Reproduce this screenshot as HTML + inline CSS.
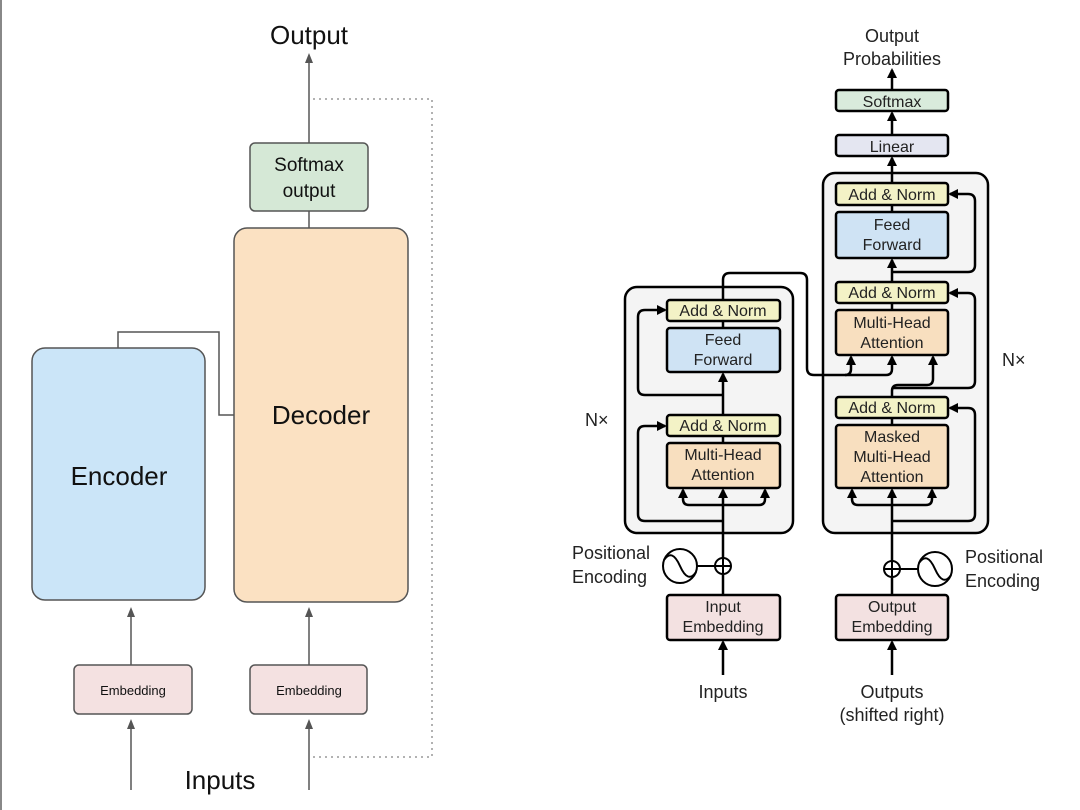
<!DOCTYPE html>
<html><head><meta charset="utf-8"><style>
html,body{margin:0;padding:0;background:#fff;}
svg{display:block;font-family:"Liberation Sans",Arial,sans-serif;}
</style></head><body>
<svg width="1080" height="810" viewBox="0 0 1080 810" xmlns="http://www.w3.org/2000/svg">
<defs>
<marker id="ag" markerWidth="10" markerHeight="10" refX="5" refY="5" orient="auto" markerUnits="userSpaceOnUse"><path d="M0,1 L10,5 L0,9 z" fill="#555"/></marker>
<marker id="ab" markerWidth="10" markerHeight="10" refX="8" refY="5" orient="auto" markerUnits="userSpaceOnUse"><path d="M0,0 L10,5 L0,10 z" fill="#000"/></marker>
</defs>
<rect x="0" y="0" width="1080" height="810" fill="#fff"/>
<line x1="1" y1="0" x2="1" y2="810" stroke="#888" stroke-width="2"/>

<text x="309" y="44" font-size="26" text-anchor="middle" fill="#111">Output</text>
<line x1="309" y1="143" x2="309" y2="58" stroke="#555" stroke-width="1.5" marker-end="url(#ag)"/>
<polyline points="313,99 432,99 432,757 313,757" fill="none" stroke="#999" stroke-width="1.5" stroke-dasharray="2,4"/>
<rect x="250" y="143" width="118" height="68" rx="5" fill="#d5e8d6" stroke="#555" stroke-width="1.5"/>
<text x="309" y="171" font-size="19" text-anchor="middle" fill="#111">Softmax</text>
<text x="309" y="197" font-size="19" text-anchor="middle" fill="#111">output</text>
<line x1="309" y1="211" x2="309" y2="228" stroke="#555" stroke-width="1.5"/>
<rect x="234" y="228" width="174" height="374" rx="13" fill="#fbe1c2" stroke="#555" stroke-width="1.5"/>
<text x="321" y="424" font-size="26" text-anchor="middle" fill="#111">Decoder</text>
<rect x="32" y="348" width="173" height="252" rx="13" fill="#cbe5f8" stroke="#555" stroke-width="1.5"/>
<text x="119" y="485" font-size="26" text-anchor="middle" fill="#111">Encoder</text>
<polyline points="118,348 118,332 219,332 219,415 234,415" fill="none" stroke="#555" stroke-width="1.5"/>
<rect x="74" y="665" width="118" height="49" rx="5" fill="#f4e1e1" stroke="#555" stroke-width="1.5"/>
<text x="133" y="695" font-size="13" text-anchor="middle" fill="#111">Embedding</text>
<rect x="250" y="665" width="117" height="49" rx="5" fill="#f4e1e1" stroke="#555" stroke-width="1.5"/>
<text x="309" y="695" font-size="13" text-anchor="middle" fill="#111">Embedding</text>
<line x1="131" y1="665" x2="131" y2="612" stroke="#555" stroke-width="1.5" marker-end="url(#ag)"/>
<line x1="309" y1="665" x2="309" y2="612" stroke="#555" stroke-width="1.5" marker-end="url(#ag)"/>
<line x1="131" y1="790" x2="131" y2="724" stroke="#555" stroke-width="1.5" marker-end="url(#ag)"/>
<line x1="309" y1="790" x2="309" y2="724" stroke="#555" stroke-width="1.5" marker-end="url(#ag)"/>
<text x="220" y="789" font-size="26" text-anchor="middle" fill="#111">Inputs</text>

<g fill="#222" font-size="18" text-anchor="middle">
<text x="892" y="42">Output</text>
<text x="892" y="65">Probabilities</text>
</g>
<g stroke="#000" stroke-width="2.5" fill="none">
<rect x="625" y="287" width="168" height="246" rx="12" fill="#f4f4f4"/>
<rect x="823" y="173" width="165" height="360" rx="12" fill="#f4f4f4"/>
</g>
<g stroke="#000" stroke-width="2.5" fill="none">
<line x1="892" y1="90" x2="892" y2="70" marker-end="url(#ab)"/>
<line x1="892" y1="135" x2="892" y2="113" marker-end="url(#ab)"/>
<line x1="892" y1="183" x2="892" y2="158" marker-end="url(#ab)"/>
<line x1="723" y1="595" x2="723" y2="575"/>
<line x1="723" y1="558" x2="723" y2="490" marker-end="url(#ab)"/>
<path d="M723,505 H689 Q683,505 683,499 V490" marker-end="url(#ab)"/>
<path d="M723,505 H759 Q765,505 765,499 V490" marker-end="url(#ab)"/>
<line x1="723" y1="443" x2="723" y2="436"/>
<line x1="723" y1="415" x2="723" y2="374" marker-end="url(#ab)"/>
<line x1="723" y1="328" x2="723" y2="321"/>
<path d="M723,521 H645 Q638,521 638,514 V433 Q638,426 645,426 H665" marker-end="url(#ab)"/>
<path d="M723,395 H645 Q638,395 638,388 V317 Q638,310 645,310 H665" marker-end="url(#ab)"/>
<path d="M723,300 V280 Q723,273 730,273 H800 Q807,273 807,280 V368 Q807,375 814,375 H845 Q851,375 851,369 V357" marker-end="url(#ab)"/>
<path d="M845,375 H886 Q892,375 892,369 V357" marker-end="url(#ab)"/>
<line x1="892" y1="595" x2="892" y2="578"/>
<line x1="892" y1="561" x2="892" y2="490" marker-end="url(#ab)"/>
<path d="M892,505 H858 Q852,505 852,499 V490" marker-end="url(#ab)"/>
<path d="M892,505 H926 Q932,505 932,499 V490" marker-end="url(#ab)"/>
<line x1="892" y1="425" x2="892" y2="418"/>
<path d="M892,397 V391 Q892,385 898,385 H927 Q933,385 933,379 V357" marker-end="url(#ab)"/>
<line x1="892" y1="310" x2="892" y2="303"/>
<line x1="892" y1="282" x2="892" y2="260" marker-end="url(#ab)"/>
<line x1="892" y1="212" x2="892" y2="205"/>
<path d="M892,521 H968 Q975,521 975,514 V415 Q975,408 968,408 H950" marker-end="url(#ab)"/>
<path d="M892,388 H968 Q975,388 975,381 V300 Q975,293 968,293 H950" marker-end="url(#ab)"/>
<path d="M892,272 H968 Q975,272 975,265 V201 Q975,194 968,194 H950" marker-end="url(#ab)"/>
<line x1="723" y1="675" x2="723" y2="642" marker-end="url(#ab)"/>
<line x1="892" y1="675" x2="892" y2="642" marker-end="url(#ab)"/>
</g>
<g stroke="#000" stroke-width="2.5">
<rect x="836" y="90" width="112" height="21" rx="3" fill="#d9ebdc"/>
<rect x="836" y="135" width="112" height="21" rx="3" fill="#e4e6f1"/>
<rect x="836" y="183" width="112" height="22" rx="3" fill="#f3f2c6"/>
<rect x="836" y="212" width="112" height="46" rx="3" fill="#cfe3f4"/>
<rect x="836" y="282" width="112" height="21" rx="3" fill="#f3f2c6"/>
<rect x="836" y="310" width="112" height="45" rx="3" fill="#f8dfbf"/>
<rect x="836" y="397" width="112" height="21" rx="3" fill="#f3f2c6"/>
<rect x="836" y="425" width="112" height="63" rx="3" fill="#f8dfbf"/>
<rect x="667" y="300" width="113" height="21" rx="3" fill="#f3f2c6"/>
<rect x="667" y="328" width="113" height="44" rx="3" fill="#cfe3f4"/>
<rect x="667" y="415" width="113" height="21" rx="3" fill="#f3f2c6"/>
<rect x="667" y="443" width="113" height="45" rx="3" fill="#f8dfbf"/>
<rect x="667" y="595" width="113" height="45" rx="3" fill="#f3e1e1"/>
<rect x="836" y="595" width="112" height="45" rx="3" fill="#f3e1e1"/>
</g>
<g stroke="#000" stroke-width="2" fill="none">
<circle cx="680" cy="566" r="17" fill="#fff"/>
<path d="M664,560 Q672,548 680,566 Q688,584 696,572"/>
<line x1="697" y1="566" x2="715" y2="566"/>
<circle cx="723" cy="566" r="8" fill="#fff"/>
<line x1="715" y1="566" x2="731" y2="566"/><line x1="723" y1="558" x2="723" y2="574"/>
<circle cx="935" cy="569" r="17" fill="#fff"/>
<path d="M919,563 Q927,551 935,569 Q943,587 951,575"/>
<line x1="900" y1="569" x2="918" y2="569"/>
<circle cx="892" cy="569" r="8" fill="#fff"/>
<line x1="884" y1="569" x2="900" y2="569"/><line x1="892" y1="561" x2="892" y2="577"/>
</g>
<g fill="#222" font-size="16" text-anchor="middle">
<text x="892" y="107">Softmax</text>
<text x="892" y="152">Linear</text>
<text x="892" y="200">Add &amp; Norm</text>
<text x="892" y="230">Feed</text>
<text x="892" y="250">Forward</text>
<text x="892" y="298">Add &amp; Norm</text>
<text x="892" y="328">Multi-Head</text>
<text x="892" y="348">Attention</text>
<text x="892" y="413">Add &amp; Norm</text>
<text x="892" y="442">Masked</text>
<text x="892" y="462">Multi-Head</text>
<text x="892" y="482">Attention</text>
<text x="723" y="316">Add &amp; Norm</text>
<text x="723" y="345">Feed</text>
<text x="723" y="365">Forward</text>
<text x="723" y="431">Add &amp; Norm</text>
<text x="723" y="460">Multi-Head</text>
<text x="723" y="480">Attention</text>
<text x="723" y="612">Input</text>
<text x="723" y="632">Embedding</text>
<text x="892" y="612">Output</text>
<text x="892" y="632">Embedding</text>
</g>
<g fill="#222" font-size="18">
<text x="585" y="426">N×</text>
<text x="1002" y="366">N×</text>
<text x="572" y="559">Positional</text>
<text x="572" y="583">Encoding</text>
<text x="965" y="563">Positional</text>
<text x="965" y="587">Encoding</text>
<text x="723" y="698" text-anchor="middle">Inputs</text>
<text x="892" y="698" text-anchor="middle">Outputs</text>
<text x="892" y="721" text-anchor="middle">(shifted right)</text>
</g>
</svg>
</body></html>
